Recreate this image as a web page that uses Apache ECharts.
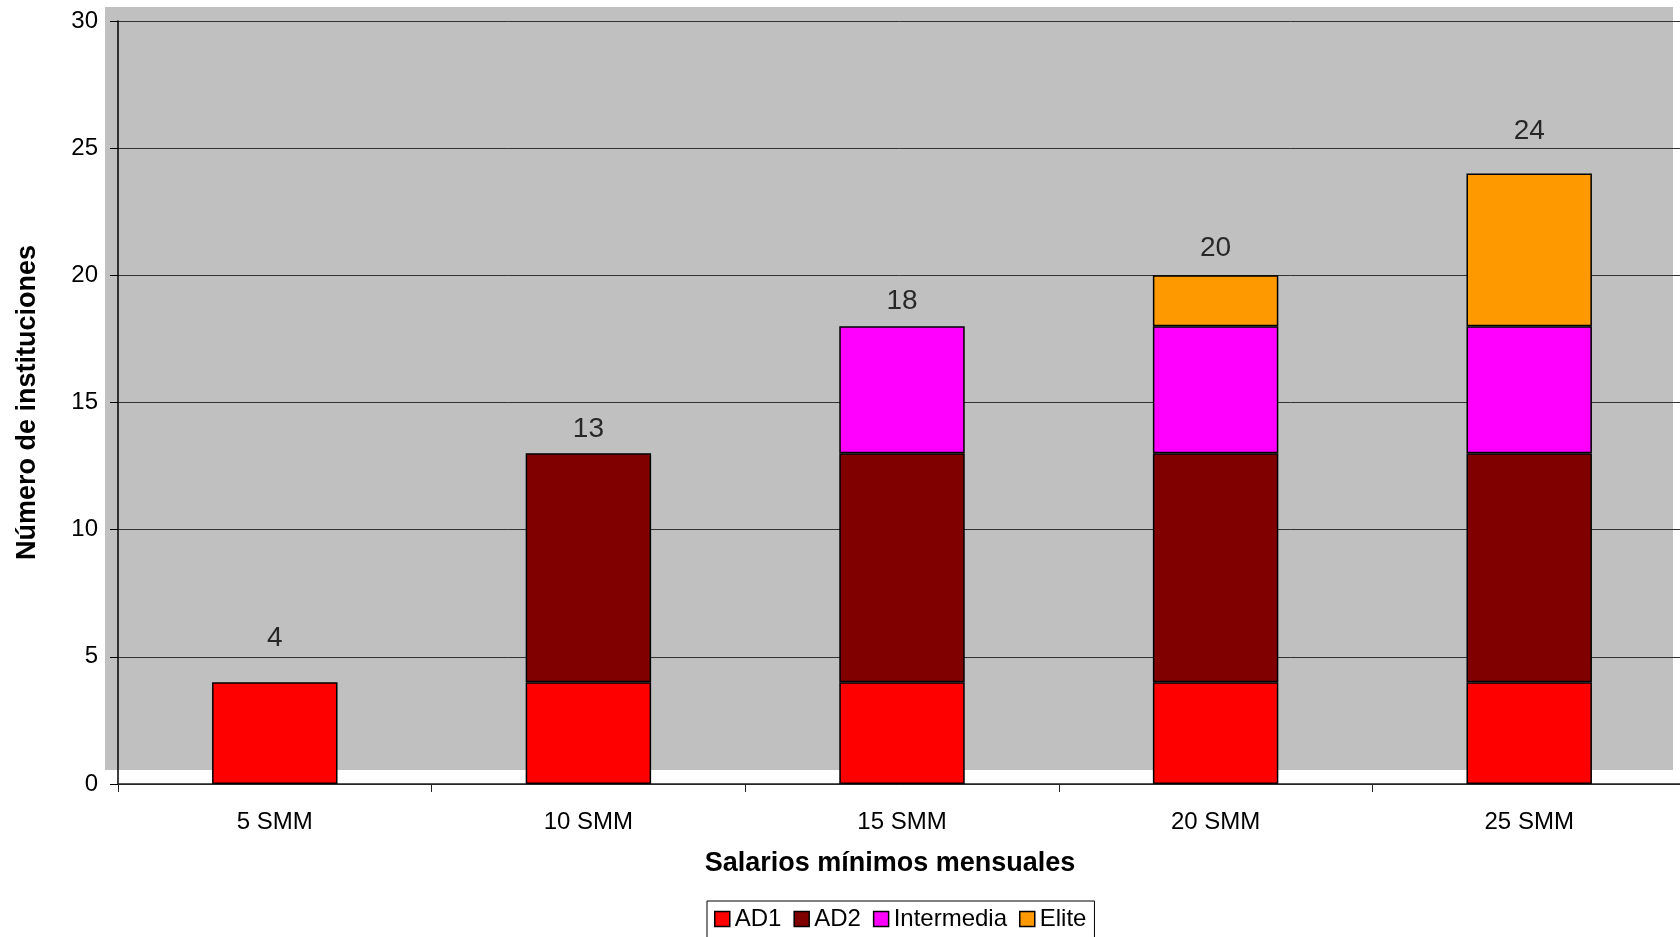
<!DOCTYPE html>
<html>
<head>
<meta charset="utf-8">
<script src="https://cdn.jsdelivr.net/npm/echarts@6/dist/echarts.min.js"></script>
<style>html,body{margin:0;padding:0;background:#fff}#c{width:1680px;height:937px}</style>
</head>
<body>
<div id="c"></div>
<script>
const categories = ['5 SMM', '10 SMM', '15 SMM', '20 SMM', '25 SMM'];
const ad1 = [4, 4, 4, 4, 4];
const ad2 = [0, 9, 9, 9, 9];
const intermedia = [0, 0, 5, 5, 5];
const elite = [0, 0, 0, 2, 6];
const totals = [4, 13, 18, 20, 24];
const yTicks = { min: 0, max: 30, interval: 5 };

// label gap above each total (style only, as in the reference picture)
const totalLabelGap = [30, 10, 11, 13, 28];

const FONT = '"Liberation Sans", Arial, sans-serif';
const chart = echarts.init(document.getElementById('c'), null, { renderer: 'canvas' });

function barSeries(name, data, color) {
  return {
    name: name, type: 'bar', stack: 'total', data: data.map(v => v === 0 ? null : v),
    barWidth: '40%',
    itemStyle: { color: color, borderColor: '#000', borderWidth: 1.5 },
    emphasis: { disabled: true }
  };
}

chart.setOption({
  animation: false,
  textStyle: { fontFamily: FONT },
  graphic: [{
    type: 'rect', z: -10, silent: true,
    shape: { x: 105, y: 7, width: 1568, height: 763 },
    style: { fill: '#C0C0C0' }
  }],
  grid: { left: 118, top: 21, width: 1568, bottom: 153, containLabel: false, outerBoundsMode: 'none' },
  legend: {
    left: 707, top: 901,
    data: ['AD1', 'AD2', 'Intermedia', 'Elite'],
    itemWidth: 15, itemHeight: 15, itemGap: 12,
    icon: 'rect',
    padding: [6, 8, 20, 7],
    borderColor: '#000', borderWidth: 1, backgroundColor: '#fff',
    textStyle: { fontSize: 24, color: '#000', fontFamily: FONT },
    itemStyle: { borderColor: '#000', borderWidth: 1.5 }
  },
  xAxis: {
    type: 'category', data: categories, boundaryGap: true,
    name: 'Salarios mínimos mensuales', nameLocation: 'middle', nameGap: 66,
    nameTextStyle: { fontSize: 27, fontWeight: 'bold', color: '#000', fontFamily: FONT, padding: [0, 24, 0, 0] },
    axisLine: { show: true, lineStyle: { color: '#222', width: 1.5 } },
    axisTick: { show: true, inside: false, length: 8, lineStyle: { color: '#222' } },
    axisLabel: { fontSize: 24, color: '#000', margin: 26, fontFamily: FONT },
    splitLine: { show: false }
  },
  yAxis: {
    type: 'value', min: yTicks.min, max: yTicks.max, interval: yTicks.interval,
    name: 'Número de instituciones', nameLocation: 'middle', nameGap: 77,
    nameTextStyle: { fontSize: 27, fontWeight: 'bold', color: '#000', fontFamily: FONT },
    axisLine: { show: true, lineStyle: { color: '#000', width: 1.5 } },
    axisTick: { show: true, inside: false, length: 8, lineStyle: { color: '#000' } },
    axisLabel: { fontSize: 24, color: '#000', margin: 20, fontFamily: FONT },
    splitLine: { show: true, lineStyle: { color: '#333', width: 1 } }
  },
  series: [
    barSeries('AD1', ad1, '#FF0000'),
    barSeries('AD2', ad2, '#800000'),
    barSeries('Intermedia', intermedia, '#FF00FF'),
    barSeries('Elite', elite, '#FF9900'),
    {
      name: 'Total', type: 'scatter', symbolSize: 0, z: 10, silent: true,
      data: totals.map((v, i) => ({ value: v, label: { distance: totalLabelGap[i] } })),
      label: { show: true, position: 'top', fontSize: 28, color: '#000', fontFamily: FONT,
               formatter: p => String(p.value) }
    }
  ]
});
</script>
</body>
</html>
